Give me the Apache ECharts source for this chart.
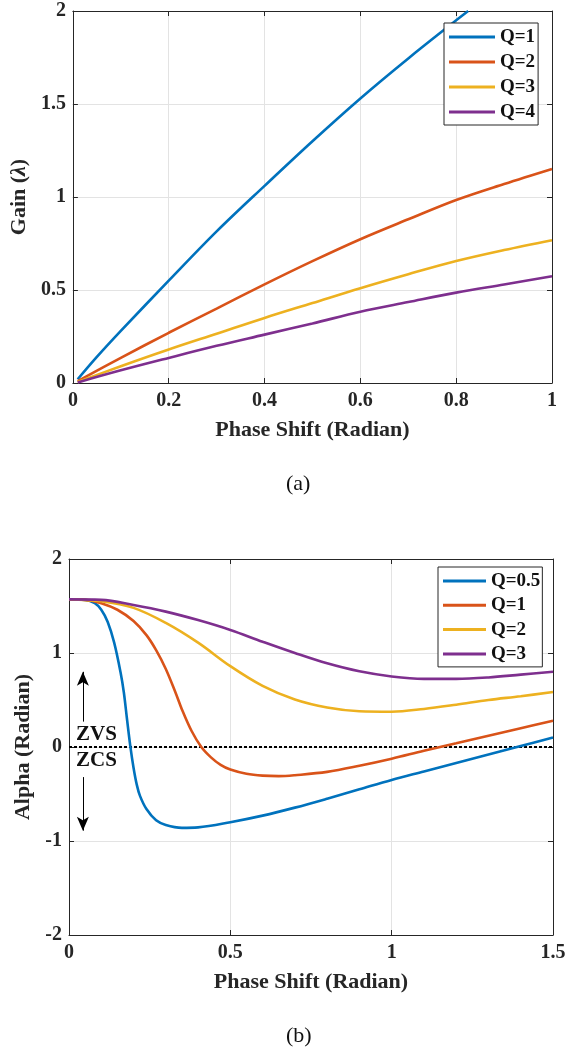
<!DOCTYPE html>
<html>
<head>
<meta charset="utf-8">
<script src="https://cdn.jsdelivr.net/npm/echarts@6/dist/echarts.min.js"></script>
<style>
html,body{margin:0;padding:0;background:#fff;}
#c{width:571px;height:1057px;}
</style>
</head>
<body>
<div id="c"></div>
<script>
// ---------- Panel (a): Gain vs phase shift ----------
const gainXQ1 = [0.01, 0.05, 0.1, 0.2, 0.3, 0.4, 0.5, 0.6, 0.7, 0.8, 0.825];
const gainQ1  = [0.02, 0.14, 0.28, 0.55, 0.815, 1.06, 1.30, 1.53, 1.745, 1.95, 2.0];
const gainX   = [0.01, 0.1, 0.2, 0.3, 0.4, 0.5, 0.6, 0.7, 0.8, 0.9, 1.0];
const gainQ2  = [0.01, 0.135, 0.27, 0.40, 0.53, 0.655, 0.773, 0.88, 0.984, 1.07, 1.151];
const gainQ3  = [0.005, 0.09, 0.18, 0.265, 0.35, 0.43, 0.51, 0.585, 0.656, 0.715, 0.768];
const gainQ4  = [0.003, 0.068, 0.135, 0.2, 0.26, 0.32, 0.383, 0.435, 0.486, 0.53, 0.574];
const gainNames = ['Q=1', 'Q=2', 'Q=3', 'Q=4'];

// ---------- Panel (b): Alpha vs phase shift ----------
const alphaXQ05 = [0, 0.05, 0.08, 0.1, 0.12, 0.14, 0.16, 0.17, 0.18, 0.19, 0.2, 0.21, 0.22, 0.24, 0.27, 0.3, 0.35, 0.4, 0.5, 0.6, 0.7, 0.8, 0.9, 1.0, 1.1, 1.2, 1.3, 1.4, 1.5];
const alphaQ05  = [1.57, 1.565, 1.53, 1.46, 1.33, 1.11, 0.79, 0.58, 0.29, 0.01, -0.22, -0.40, -0.52, -0.66, -0.78, -0.83, -0.86, -0.855, -0.80, -0.73, -0.645, -0.55, -0.45, -0.35, -0.26, -0.17, -0.08, 0.01, 0.1];
const alphaXQ1  = [0, 0.05, 0.1, 0.15, 0.2, 0.24, 0.27, 0.3, 0.33, 0.35, 0.38, 0.41, 0.44, 0.47, 0.5, 0.55, 0.6, 0.65, 0.7, 0.8, 0.9, 1.0, 1.1, 1.2, 1.3, 1.4, 1.5];
const alphaQ1   = [1.57, 1.565, 1.53, 1.46, 1.34, 1.19, 1.03, 0.83, 0.58, 0.40, 0.17, 0.0, -0.11, -0.19, -0.24, -0.285, -0.305, -0.31, -0.30, -0.265, -0.2, -0.125, -0.04, 0.04, 0.12, 0.2, 0.28];
const alphaX    = [0, 0.1, 0.2, 0.3, 0.4, 0.5, 0.6, 0.7, 0.8, 0.9, 1.0, 1.1, 1.2, 1.3, 1.4, 1.5];
const alphaQ2   = [1.57, 1.55, 1.48, 1.32, 1.11, 0.86, 0.65, 0.505, 0.42, 0.38, 0.375, 0.405, 0.45, 0.5, 0.54, 0.585];
const alphaQ3   = [1.57, 1.565, 1.51, 1.44, 1.35, 1.245, 1.12, 1.0, 0.89, 0.805, 0.75, 0.725, 0.725, 0.74, 0.77, 0.8];
const alphaNames = ['Q=0.5', 'Q=1', 'Q=2', 'Q=3'];

// Annotations in panel (b)
const zeroLineX = [0, 1.5];
const zeroLineY = [0, 0];
const arrowX = 0.043;
const arrowUp = [0.27, 0.80];
const arrowDown = [-0.32, -0.89];
const zvsPos = [0.085, 0.13];
const zcsPos = [0.085, -0.145];

// Tick settings
const gainXTicks = {min: 0, max: 1, interval: 0.2};
const gainYTicks = {min: 0, max: 2, interval: 0.5};
const alphaXTicks = {min: 0, max: 1.5, interval: 0.5};
const alphaYTicks = {min: -2, max: 2, interval: 1};

const colors = ['#0072BD', '#D95319', '#EDB120', '#7E2F8E'];
const FF = '"Liberation Serif", "Times New Roman", serif';
const zip = (xs, ys) => xs.map((x, i) => [x, ys[i]]);
const PANEL_B = 'b:'; // internal prefix so both panels' legends stay separate

const labelStyle = {fontFamily: FF, fontWeight: 'bold', fontSize: 20, color: '#262626', margin: 8};
const nameStyle = {fontFamily: FF, fontWeight: 'bold', fontSize: 22, color: '#262626',
  rich: {i: {fontFamily: FF, fontStyle: 'italic', fontWeight: 'bold', fontSize: 22, color: '#262626'}}};

function mainX(grid, t, name) {
  return {type: 'value', gridIndex: grid, min: t.min, max: t.max, interval: t.interval, position: 'bottom',
    name: name, nameLocation: 'middle', nameGap: 36, nameTextStyle: nameStyle,
    axisLine: {show: true, onZero: false, lineStyle: {color: '#262626', width: 1}},
    axisTick: {show: true, inside: true, length: 5, lineStyle: {color: '#262626'}},
    axisLabel: labelStyle,
    splitLine: {show: true, lineStyle: {color: '#e3e3e3', width: 1}}};
}
function sideX(grid, t) {
  return {type: 'value', gridIndex: grid, min: t.min, max: t.max, interval: t.interval, position: 'top',
    axisLine: {show: true, onZero: false, lineStyle: {color: '#262626', width: 1}},
    axisTick: {show: true, inside: true, length: 5, lineStyle: {color: '#262626'}},
    axisLabel: {show: false}, splitLine: {show: false}};
}
function mainY(grid, t, name, gap) {
  return {type: 'value', gridIndex: grid, min: t.min, max: t.max, interval: t.interval, position: 'left',
    name: name, nameLocation: 'middle', nameGap: gap, nameTextStyle: nameStyle,
    axisLine: {show: true, onZero: false, lineStyle: {color: '#262626', width: 1}},
    axisTick: {show: true, inside: true, length: 5, lineStyle: {color: '#262626'}},
    axisLabel: Object.assign({}, labelStyle, {margin: 7}),
    splitLine: {show: true, lineStyle: {color: '#e3e3e3', width: 1}}};
}
function sideY(grid, t) {
  return {type: 'value', gridIndex: grid, min: t.min, max: t.max, interval: t.interval, position: 'right',
    axisLine: {show: true, onZero: false, lineStyle: {color: '#262626', width: 1}},
    axisTick: {show: true, inside: true, length: 5, lineStyle: {color: '#262626'}},
    axisLabel: {show: false}, splitLine: {show: false}};
}
function curve(name, data, color, xi, yi) {
  return {name: name, type: 'line', xAxisIndex: xi, yAxisIndex: yi, data: data,
    smooth: 0.35,
    showSymbol: false, symbol: 'none', color: color, animation: false,
    lineStyle: {color: color, width: 2.6}};
}

const chart = echarts.init(document.getElementById('c'), null, {renderer: 'canvas'});
const legendBase = {orient: 'vertical', icon: 'rect', itemWidth: 46, itemHeight: 3,
  backgroundColor: '#ffffff', borderColor: '#262626', borderWidth: 1, borderRadius: 0,
  formatter: n => n.replace(PANEL_B, ''),
  textStyle: {fontFamily: FF, fontWeight: 'bold', fontSize: 19, color: '#111', lineHeight: 20}};

chart.setOption({
  animation: false,
  backgroundColor: '#ffffff',
  grid: [
    {left: 71, top: 11, width: 481, height: 372},
    {left: 69, top: 559, width: 484, height: 376}
  ],
  xAxis: [
    mainX(0, gainXTicks, 'Phase Shift (Radian)'), sideX(0, gainXTicks),
    mainX(1, alphaXTicks, 'Phase Shift (Radian)'), sideX(1, alphaXTicks)
  ],
  yAxis: [
    mainY(0, gainYTicks, 'Gain ({i|λ})', 35), sideY(0, gainYTicks),
    mainY(1, alphaYTicks, 'Alpha (Radian)', 27), sideY(1, alphaYTicks)
  ],
  legend: [
    Object.assign({}, legendBase, {data: gainNames, left: 444, top: 23, padding: [4, 3, 3, 5], itemGap: 5}),
    Object.assign({}, legendBase, {data: alphaNames.map(n => PANEL_B + n), left: 438, top: 567, itemWidth: 43,
      padding: [4, 2, 3, 5], itemGap: 4.3})
  ],
  series: [
    curve(gainNames[0], zip(gainXQ1, gainQ1), colors[0], 0, 0),
    curve(gainNames[1], zip(gainX, gainQ2), colors[1], 0, 0),
    curve(gainNames[2], zip(gainX, gainQ3), colors[2], 0, 0),
    curve(gainNames[3], zip(gainX, gainQ4), colors[3], 0, 0),
    {
      type: 'line', xAxisIndex: 2, yAxisIndex: 2, data: zip(zeroLineX, zeroLineY), symbol: 'none',
      silent: true, animation: false, z: 1,
      lineStyle: {color: '#000', width: 1.8, type: [3, 2]},
      markLine: {
        silent: true, animation: false, symbol: ['none', 'arrow'], symbolSize: [9, 14],
        lineStyle: {color: '#000', width: 1, type: 'solid'}, label: {show: false},
        data: [
          [{coord: [arrowX, arrowUp[0]]}, {coord: [arrowX, arrowUp[1]]}],
          [{coord: [arrowX, arrowDown[0]]}, {coord: [arrowX, arrowDown[1]]}]
        ]
      },
      markPoint: {
        silent: true, animation: false, symbol: 'circle', symbolSize: 0,
        label: {show: true, fontFamily: FF, fontWeight: 'bold', fontSize: 21, color: '#111',
          position: 'inside', formatter: p => p.name},
        data: [
          {name: 'ZVS', coord: zvsPos},
          {name: 'ZCS', coord: zcsPos}
        ]
      }
    },
    curve(PANEL_B + alphaNames[0], zip(alphaXQ05, alphaQ05), colors[0], 2, 2),
    curve(PANEL_B + alphaNames[1], zip(alphaXQ1, alphaQ1), colors[1], 2, 2),
    curve(PANEL_B + alphaNames[2], zip(alphaX, alphaQ2), colors[2], 2, 2),
    curve(PANEL_B + alphaNames[3], zip(alphaX, alphaQ3), colors[3], 2, 2)
  ],
  graphic: [
    {type: 'text', left: 300 - 14, top: 473, style: {text: '(a)', font: '22px ' + FF, fill: '#111'}},
    {type: 'text', left: 300 - 14, top: 1025, style: {text: '(b)', font: '22px ' + FF, fill: '#111'}}
  ]
});
</script>
</body>
</html>
